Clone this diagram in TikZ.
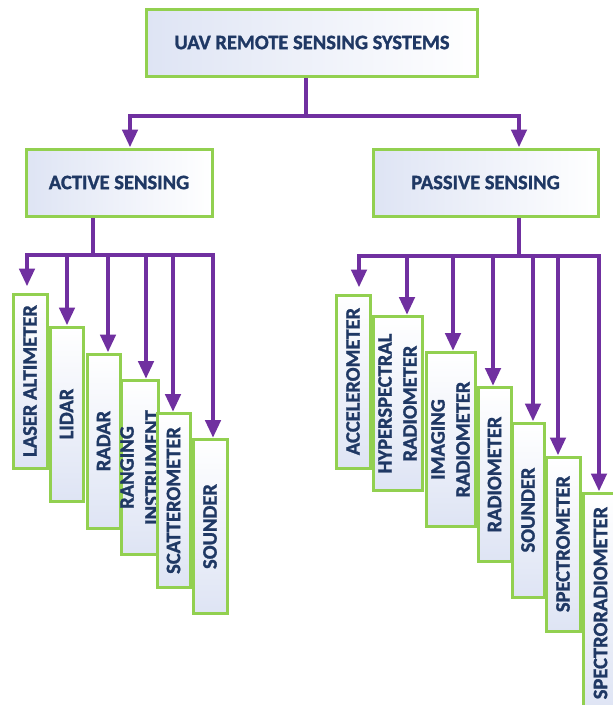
\documentclass[tikz,border=0pt]{standalone}
\usepackage{fontspec}
\setmainfont{Carlito}[BoldFeatures={FakeBold=1.3}]
\usetikzlibrary{arrows.meta}
\definecolor{edgegreen}{RGB}{146,208,80}
\definecolor{linkpurple}{RGB}{112,48,160}
\definecolor{labelnavy}{RGB}{31,56,100}
\definecolor{paleblue}{RGB}{222,228,244}
\begin{document}
\begin{tikzpicture}[x=1pt,y=-1pt,
  card/.style={draw=edgegreen, line width=3pt, inner sep=0pt, text=labelnavy,
    font=\fontsize{20.5}{25}\selectfont\bfseries, align=center},
  headcard/.style={card, left color=paleblue, right color=white, minimum height=67pt},
  itemcard/.style={card, rotate=90, bottom color=paleblue, top color=white, minimum width=174pt},
  link/.style={draw=linkpurple, line width=4.5pt},
  linkarrow/.style={link, -{Triangle[width=15pt,length=18pt]}}
]
\useasboundingbox (0,0) rectangle (613,705);
\fill[white] (0,0) rectangle (613,705);
\clip (0,0) rectangle (613,705);

% top level and the two sensing families
\node[headcard, minimum width=331pt] (root) at (312,42.5) {UAV REMOTE SENSING SYSTEMS};
\node[headcard, minimum width=186pt] (active) at (119,182.5) {ACTIVE SENSING};
\node[headcard, minimum width=225pt] (passive) at (485.5,182.5) {PASSIVE SENSING};

% active sensors, stepping down to the right
\node[itemcard, minimum height=34pt] (laser) at (30,381) {LASER ALTIMETER};
\node[itemcard, minimum height=33pt] (lidar) at (66.5,414) {LIDAR};
\node[itemcard, minimum height=33pt] (radar) at (103.5,441) {RADAR};
\node[itemcard, minimum height=37pt, inner ysep=-4pt] (ranging) at (139.5,467.5) {RANGING\\INSTRUMENT};
\node[itemcard, minimum height=33pt] (scatter) at (173.5,500.5) {SCATTEROMETER};
\node[itemcard, minimum height=34pt] (asounder) at (210,526.5) {SOUNDER};

% passive sensors
\node[itemcard, minimum height=34pt, minimum width=173pt] (accel) at (353,381.5) {ACCELEROMETER};
\node[itemcard, minimum height=49pt] (hyper) at (397.5,403.5) {HYPERSPECTRAL\\RADIOMETER};
\node[itemcard, minimum height=49pt] (imaging) at (450.5,439.5) {IMAGING\\RADIOMETER};
\node[itemcard, minimum height=33pt] (radio) at (494.5,474.5) {RADIOMETER};
\node[itemcard, minimum height=32pt] (psounder) at (528,510) {SOUNDER};
\node[itemcard, minimum height=34pt] (spectro) at (563,544) {SPECTROMETER};
\node[itemcard, minimum height=35pt, minimum width=220pt] (specrad) at (600.5,603) {SPECTRORADIOMETER};

% root bus
\coordinate (rootjoin) at (306,116);
\coordinate (toleft) at (130,116);
\coordinate (toright) at (519,116);
\draw[link] (rootjoin |- root.south) -- (rootjoin);
\draw[linkarrow] (rootjoin) -- (toleft) -- (toleft |- active.north);
\draw[linkarrow] (rootjoin) -- (toright) -- (toright |- passive.north);

% active bus
\coordinate (ajoin) at (93,255);
\coordinate (a1) at (27,255);
\coordinate (a2) at (67,255);
\coordinate (a3) at (108,255);
\coordinate (a4) at (146,255);
\coordinate (a5) at (173,255);
\coordinate (a6) at (213,255);
\draw[link] (ajoin |- active.south) -- (ajoin);
\draw[linkarrow, shorten >=6pt] (ajoin) -- (a1) -- (a1 |- laser.east);
\draw[linkarrow] (ajoin) -- (a6) -- (a6 |- asounder.east);
\foreach \c/\n in {a2/lidar, a3/radar, a4/ranging, a5/scatter}
  \draw[linkarrow] (\c) -- (\c |- \n.east);

% passive bus
\coordinate (pjoin) at (519,256);
\coordinate (p1) at (359,256);
\coordinate (p2) at (407,256);
\coordinate (p3) at (453,256);
\coordinate (p4) at (493,256);
\coordinate (p5) at (533,256);
\coordinate (p6) at (558,256);
\coordinate (p7) at (599,256);
\draw[link] (pjoin |- passive.south) -- (pjoin);
\draw[linkarrow, shorten >=6pt] (pjoin) -- (p1) -- (p1 |- accel.east);
\draw[linkarrow] (pjoin) -- (p7) -- (p7 |- specrad.east);
\foreach \c/\n in {p2/hyper, p3/imaging, p4/radio, p5/psounder, p6/spectro}
  \draw[linkarrow] (\c) -- (\c |- \n.east);
\end{tikzpicture}
\end{document}
